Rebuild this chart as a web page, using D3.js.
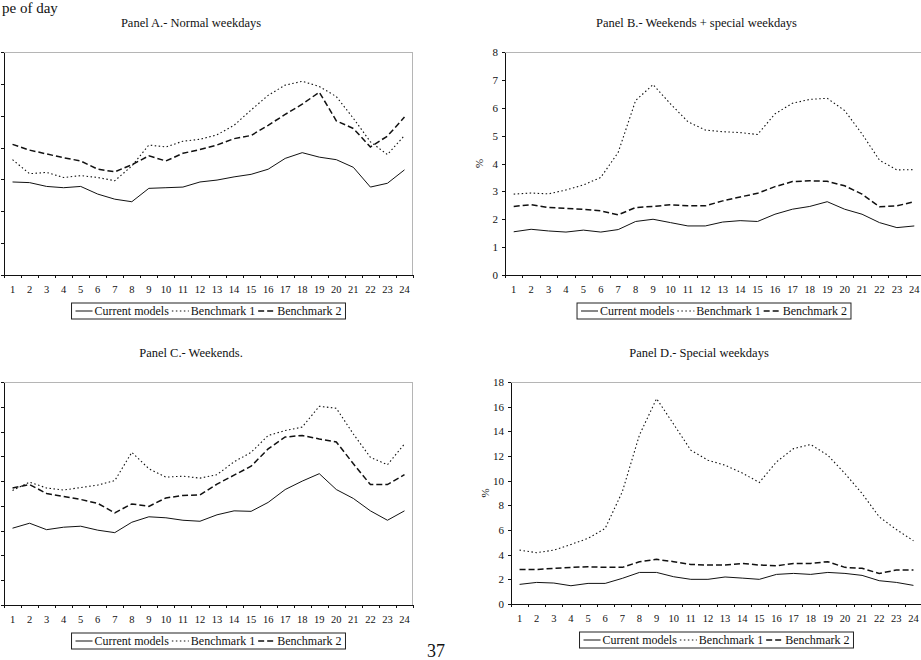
<!doctype html>
<html>
  <head>
    <meta charset="utf-8">
    <script src="https://cdn.jsdelivr.net/npm/d3@7/dist/d3.min.js"></script>
    <style>
      body {
          margin: 0;
          background: #fff;
          font-family: "Liberation Serif", "Times New Roman", serif;
      }
      text { fill: #111; }
      .axis path, .axis line {
          stroke: #111;
          shape-rendering: crispEdges;
      }
      .xlab { font-size: 10.5px; text-anchor: middle; }
      .axis text { font-size: 11px; font-family: "Liberation Serif", serif; fill: #111; }
      .title { font-size: 12.5px; text-anchor: middle; }
      .legend text { font-size: 12px; }
    </style>
  </head>
  <body>
    <svg id="chart" width="921" height="660"></svg>
    <script type="text/javascript">
        // hours of the day (x categories)
        var hours = [1,2,3,4,5,6,7,8,9,10,11,12,13,14,15,16,17,18,19,20,21,22,23,24];
        var seriesNames = ["Current models", "Benchmark 1", "Benchmark 2"];

        // Panel A.- Normal weekdays
        var aCurrent = [1.46,1.45,1.39,1.37,1.39,1.27,1.19,1.15,1.36,1.37,1.38,1.46,1.49,1.54,1.58,1.66,1.83,1.92,1.85,1.81,1.69,1.38,1.44,1.65];
        var aBench1  = [1.81,1.59,1.61,1.53,1.56,1.53,1.48,1.71,2.04,2.01,2.10,2.13,2.20,2.35,2.59,2.82,2.98,3.04,2.96,2.80,2.46,2.09,1.89,2.19];
        var aBench2  = [2.05,1.96,1.90,1.84,1.79,1.66,1.62,1.73,1.87,1.79,1.91,1.97,2.04,2.14,2.19,2.35,2.52,2.68,2.87,2.42,2.30,2.01,2.18,2.48];

        // Panel B.- Weekends + special weekdays
        var bCurrent = [1.55,1.64,1.58,1.54,1.61,1.54,1.63,1.92,2.00,1.88,1.76,1.76,1.90,1.95,1.92,2.18,2.36,2.46,2.63,2.36,2.18,1.88,1.70,1.76];
        var bBench1  = [2.90,2.94,2.91,3.05,3.23,3.50,4.40,6.26,6.83,6.14,5.50,5.20,5.14,5.11,5.04,5.78,6.16,6.30,6.34,5.90,5.06,4.12,3.77,3.78];
        var bBench2  = [2.46,2.52,2.42,2.39,2.36,2.30,2.16,2.42,2.46,2.52,2.48,2.48,2.66,2.80,2.93,3.17,3.35,3.38,3.36,3.20,2.90,2.45,2.48,2.63];

        // Panel C.- Weekends
        var cCurrent = [1.55,1.65,1.52,1.57,1.59,1.51,1.46,1.67,1.78,1.76,1.71,1.69,1.82,1.90,1.89,2.07,2.33,2.50,2.65,2.33,2.15,1.90,1.71,1.90];
        var cBench1  = [2.31,2.48,2.36,2.32,2.37,2.42,2.51,3.08,2.75,2.58,2.60,2.56,2.63,2.89,3.08,3.42,3.52,3.59,4.01,3.97,3.45,2.98,2.83,3.25];
        var cBench2  = [2.36,2.43,2.25,2.19,2.13,2.05,1.86,2.04,1.99,2.16,2.21,2.22,2.44,2.62,2.80,3.15,3.39,3.42,3.35,3.29,2.85,2.43,2.43,2.63];

        // Panel D.- Special weekdays
        var dCurrent = [1.59,1.75,1.70,1.48,1.67,1.67,2.08,2.56,2.56,2.21,2.00,2.00,2.19,2.10,2.00,2.40,2.48,2.40,2.56,2.48,2.32,1.89,1.75,1.51];
        var dBench1  = [4.37,4.16,4.37,4.83,5.32,6.13,9.10,13.70,16.65,14.57,12.47,11.66,11.25,10.63,9.85,11.52,12.60,12.93,12.06,10.58,8.96,7.07,6.04,5.13];
        var dBench2  = [2.80,2.80,2.89,2.97,3.02,2.97,2.97,3.43,3.62,3.43,3.21,3.16,3.16,3.29,3.16,3.10,3.29,3.29,3.43,2.97,2.89,2.48,2.75,2.75];

        var styles = [
            { dash: null, width: 1 },
            { dash: "1.5,2.5", width: 1.1 },
            { dash: "6,3", width: 1.5 }
        ];

        var panels = [
            { title: "Panel A.- Normal weekdays", left: 4, top: 52, width: 409, height: 223,
              yMax: 3.5, yStep: 0.5, yLabels: false, series: [aCurrent, aBench1, aBench2] },
            { title: "Panel B.- Weekends + special weekdays", left: 505, top: 52, width: 418, height: 223,
              yMax: 8, yStep: 1, yLabels: true, series: [bCurrent, bBench1, bBench2] },
            { title: "Panel C.- Weekends.", left: 4, top: 382, width: 409, height: 223,
              yMax: 4.5, yStep: 0.5, yLabels: false, series: [cCurrent, cBench1, cBench2] },
            { title: "Panel D.- Special weekdays", left: 511, top: 382, width: 411, height: 222,
              yMax: 18, yStep: 2, yLabels: true, series: [dCurrent, dBench1, dBench2] }
        ];

        var svg = d3.select("#chart");

        // cropped page header and page number
        svg.append("text")
            .attr("x", 2).attr("y", 13)
            .style("font-size", "15px")
            .text("pe of day");

        svg.append("text")
            .attr("x", 436).attr("y", 657)
            .attr("text-anchor", "middle")
            .style("font-size", "18px")
            .text("37");

        panels.forEach(drawPanel);

        function drawPanel(p) {
            var g = svg.append("g").attr("transform", `translate(${p.left},${p.top})`);

            var x = d3.scaleLinear().domain([0.5, 24.5]).range([0, p.width]);
            var y = d3.scaleLinear().domain([0, p.yMax]).range([p.height, 0]);

            g.append("text")
                .attr("class", "title")
                .attr("x", p.width / 2 - 17.5)
                .attr("y", -25)
                .text(p.title);

            // light frame of the plot area
            g.append("rect")
                .attr("x", 0.5).attr("y", 0.5)
                .attr("width", p.width - 1).attr("height", p.height)
                .attr("fill", "none")
                .attr("stroke", "#b5b5b5");

            var xAxis = d3.axisBottom(x)
                .tickValues(d3.range(0.5, 25, 1))
                .tickSize(3)
                .tickSizeOuter(0)
                .tickFormat("");

            g.append("g")
                .attr("class", "x axis")
                .attr("transform", `translate(0,${p.height})`)
                .call(xAxis);

            g.selectAll(".xlab")
                .data(hours)
                .enter().append("text")
                .attr("class", "xlab")
                .attr("x", d => x(d))
                .attr("y", p.height + 18)
                .text(d => d);

            var yAxis = d3.axisLeft(y)
                .tickValues(d3.range(0, p.yMax + p.yStep / 2, p.yStep))
                .tickSize(3)
                .tickSizeOuter(0)
                .tickPadding(4);
            if (!p.yLabels) yAxis.tickFormat("");

            g.append("g")
                .attr("class", "y axis")
                .call(yAxis);

            if (p.yLabels) {
                g.append("text")
                    .attr("transform", `translate(-22,${p.height / 2}) rotate(-90)`)
                    .attr("text-anchor", "middle")
                    .style("font-size", "11px")
                    .text("%");
            }

            var line = d3.line()
                .x((d, i) => x(hours[i]))
                .y(d => y(d));

            p.series.forEach(function(values, i) {
                g.append("path")
                    .datum(values)
                    .attr("fill", "none")
                    .attr("stroke", "#111")
                    .attr("stroke-width", styles[i].width)
                    .attr("stroke-dasharray", styles[i].dash)
                    .attr("d", line);
            });

            // legend
            var lg = g.append("g").attr("class", "legend");
            var box = lg.append("rect")
                .attr("fill", "#fff")
                .attr("stroke", "#222");
            var cx = 4;
            seriesNames.forEach(function(name, i) {
                lg.append("line")
                    .attr("x1", cx).attr("x2", cx + 17)
                    .attr("y1", 0).attr("y2", 0)
                    .attr("stroke", "#111")
                    .attr("stroke-width", styles[i].width)
                    .attr("stroke-dasharray", styles[i].dash);
                var t = lg.append("text")
                    .attr("x", cx + 19)
                    .attr("y", 4)
                    .text(name);
                cx += 19 + t.node().getComputedTextLength() + 3;
            });
            var lw = cx + 1;
            box.attr("x", 0).attr("y", -8).attr("width", lw).attr("height", 16);
            lg.attr("transform", `translate(${p.width / 2 - lw / 2},${p.height + 36})`);
        }
    </script>
  </body>
</html>
